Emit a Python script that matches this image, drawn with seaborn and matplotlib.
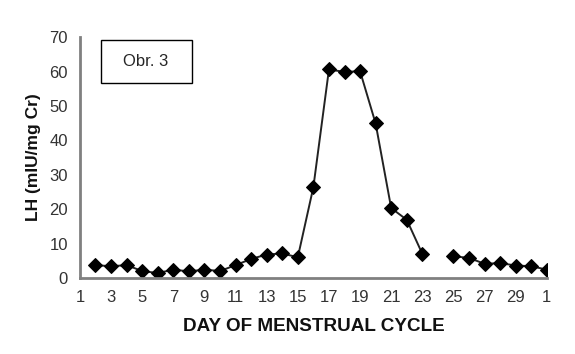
import pandas as pd
import seaborn as sns
import matplotlib.pyplot as plt
from matplotlib.patches import Rectangle

# LH values per day of the cycle (day 31 = day 1 of the next cycle, no sample on day 24)
days = [2, 3, 4, 5, 6, 7, 8, 9, 10, 11, 12, 13, 14, 15, 16, 17, 18, 19, 20, 21, 22, 23,
        25, 26, 27, 28, 29, 30, 31]
lh = [3.7, 3.4, 3.7, 2.0, 1.4, 2.4, 1.9, 2.4, 2.0, 3.7, 5.5, 6.8, 7.1, 6.0, 26.4, 60.6,
      59.9, 60.1, 44.9, 20.3, 16.9, 7.0, 6.3, 5.8, 4.1, 4.3, 3.6, 3.4, 2.4]
segment = [0] * 22 + [1] * 7

tick_days = list(range(1, 32, 2))
tick_labels = [str(d) for d in range(1, 30, 2)] + ['1']

df = pd.DataFrame({'day': days, 'lh': lh, 'segment': segment})

sns.set_style('white')
plt.rcParams['font.family'] = ['Liberation Sans', 'DejaVu Sans']

fig = plt.figure(figsize=(5.75, 3.54), dpi=100)
ax = fig.add_axes([0.139, 0.215, 0.812, 0.68])

sns.lineplot(data=df, x='day', y='lh', units='segment', estimator=None,
             color='#222222', linewidth=1.4, marker='D', markersize=7.5,
             markerfacecolor='black', markeredgecolor='black', ax=ax)

ax.set_xlim(1, 31)
ax.set_ylim(0, 70)
ax.set_xticks(range(1, 32), minor=True)
ax.set_xticks(tick_days)
ax.set_xticklabels(tick_labels)
ax.set_yticks(range(0, 71, 10))

for side in ['top', 'right']:
    ax.spines[side].set_visible(False)
for side in ['left', 'bottom']:
    ax.spines[side].set_color('#808080')
    ax.spines[side].set_linewidth(2)

ax.tick_params(axis='both', which='both', direction='out', color='#555555',
               length=5, width=1.2, labelsize=12, labelcolor='#333333')
ax.tick_params(axis='x', which='minor', length=5)
ax.tick_params(axis='x', pad=4)

ax.set_xlabel('DAY OF MENSTRUAL CYCLE', fontsize=13.6, fontweight='bold', labelpad=9,
              color='#111111')
ax.set_ylabel('LH (mIU/mg Cr)', fontsize=12.5, fontweight='bold', labelpad=6,
              color='#111111')

# label box in the upper left
box = Rectangle((101 / 575, 1 - 83 / 354), 91 / 575, 43 / 354, transform=fig.transFigure,
                facecolor='white', edgecolor='black', linewidth=1)
fig.patches.append(box)
fig.text(146 / 575, 1 - 61.5 / 354, 'Obr. 3', ha='center', va='center', fontsize=12)

plt.savefig('out.png', dpi=100)
plt.close()
